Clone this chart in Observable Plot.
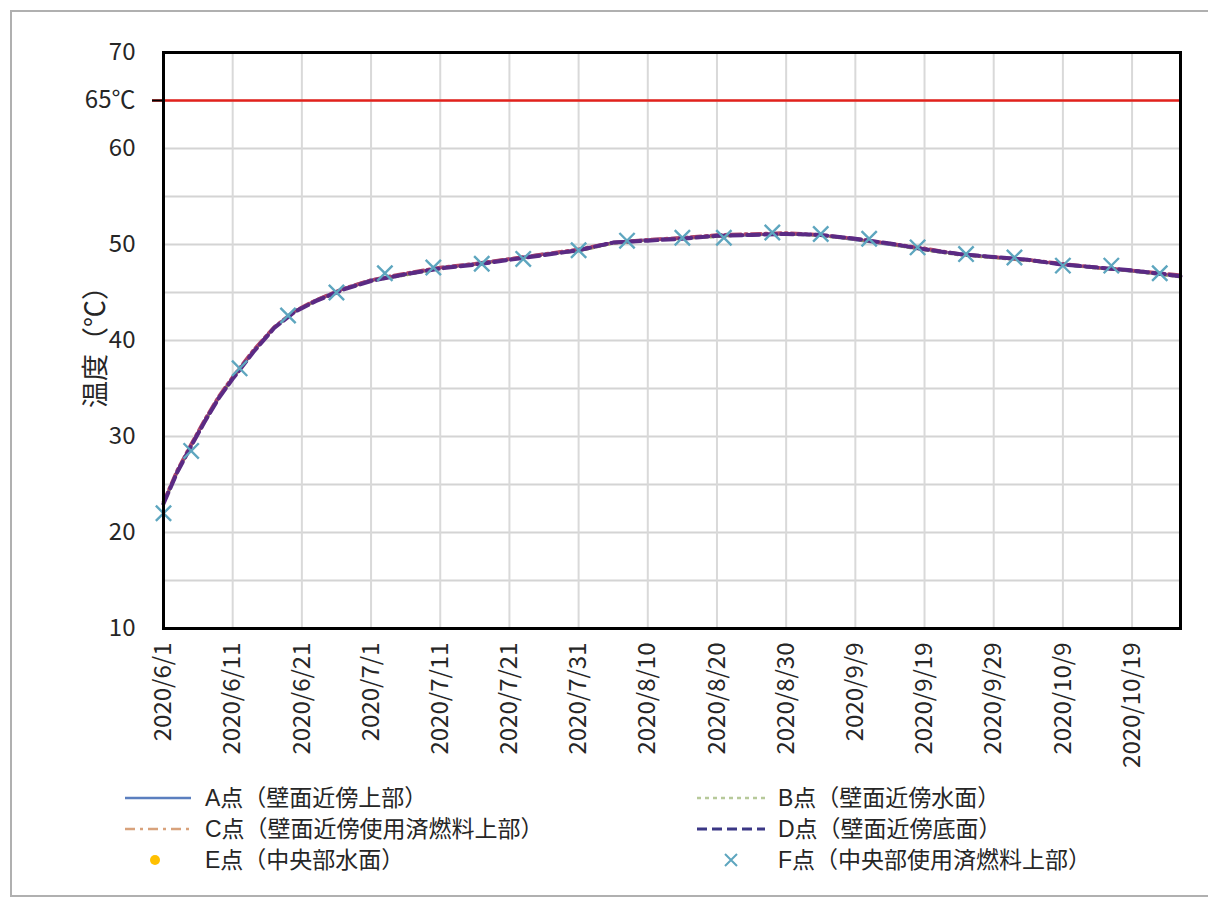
<!DOCTYPE html>
<html>
<head>
<meta charset="utf-8">
<script src="https://cdn.jsdelivr.net/npm/d3@7"></script>
<script src="https://cdn.jsdelivr.net/npm/@observablehq/plot@0.6"></script>
<style>
  html, body { margin: 0; padding: 0; background: #fff; }
  body { width: 1208px; height: 901px; position: relative; overflow: hidden; font-family: "Noto Sans CJK JP", "Noto Sans", sans-serif; }
  #border { position: absolute; left: 10px; top: 10px; width: 1198px; height: 887px; border: 2px solid #b0b0b0; border-right: none; box-sizing: border-box; }
  #chart { position: absolute; left: 0; top: 0; }
  .leg { position: absolute; display: flex; align-items: center; font-family: "Liberation Sans", "Noto Sans CJK JP", sans-serif; font-size: 23px; line-height: 24px; height: 26px; color: #262626; white-space: nowrap; }
  .leg svg { display: block; }
</style>
</head>
<body>
<div id="border"></div>
<div id="chart"></div>
<div id="legend"></div>
<script>
// ---- data ----
const lineDates = ["2020-06-01","2020-06-03","2020-06-05","2020-06-07","2020-06-09","2020-06-11","2020-06-14","2020-06-17","2020-06-20","2020-06-23","2020-06-27","2020-07-01","2020-07-06","2020-07-11","2020-07-16","2020-07-21","2020-07-26","2020-07-31","2020-08-05","2020-08-10","2020-08-15","2020-08-20","2020-08-25","2020-08-30","2020-09-04","2020-09-09","2020-09-14","2020-09-19","2020-09-24","2020-09-29","2020-10-04","2020-10-09","2020-10-14","2020-10-19","2020-10-26"];
const seriesA = [23.1,26.4,29.1,31.7,34.1,36.1,38.9,41.4,43.0,44.2,45.4,46.3,46.9,47.6,48.0,48.5,49.0,49.4,50.2,50.5,50.7,50.9,51.0,51.1,51.0,50.5,50.0,49.5,49.0,48.7,48.4,47.9,47.6,47.2,46.7];
const seriesB = [23.0,26.2,29.0,31.5,34.0,36.0,38.8,41.3,43.0,44.1,45.3,46.2,46.8,47.5,47.9,48.4,48.9,49.3,50.1,50.4,50.6,50.8,51.0,51.1,50.9,50.5,50.0,49.4,48.9,48.6,48.3,47.9,47.5,47.2,46.6];
const seriesC = [23.2,26.5,29.2,31.8,34.2,36.2,39.0,41.4,43.1,44.2,45.4,46.3,47.0,47.6,48.0,48.5,49.0,49.5,50.2,50.5,50.7,51.0,51.1,51.2,51.0,50.6,50.1,49.6,49.0,48.7,48.4,48.0,47.6,47.3,46.8];
const seriesD = [23.0,26.3,29.0,31.6,34.0,36.0,38.8,41.3,43.0,44.1,45.3,46.2,46.9,47.5,47.9,48.4,48.9,49.4,50.2,50.4,50.6,50.9,51.0,51.1,51.0,50.6,50.1,49.5,49.0,48.7,48.4,47.9,47.6,47.3,46.7];
const pointFDates = ["2020-06-01","2020-06-05","2020-06-12","2020-06-19","2020-06-26","2020-07-03","2020-07-10","2020-07-17","2020-07-23","2020-07-31","2020-08-07","2020-08-15","2020-08-21","2020-08-28","2020-09-04","2020-09-11","2020-09-18","2020-09-25","2020-10-02","2020-10-09","2020-10-16","2020-10-23"];
const pointFValues = [22.0,28.5,37.1,42.6,45.0,47.0,47.6,48.0,48.5,49.4,50.4,50.7,50.7,51.25,51.1,50.6,49.7,49.0,48.65,47.8,47.8,47.0];
const xTickDates = ["2020-06-01","2020-06-11","2020-06-21","2020-07-01","2020-07-11","2020-07-21","2020-07-31","2020-08-10","2020-08-20","2020-08-30","2020-09-09","2020-09-19","2020-09-29","2020-10-09","2020-10-19"];
const yTickValues = [10, 20, 30, 40, 50, 60, 65, 70];
const yGridValues = [10, 15, 20, 25, 30, 35, 40, 45, 50, 55, 60, 65, 70];
const limitValue = [65];
const xDomain = ["2020-06-01", "2020-10-26"];
const yDomain = [10, 70];
const legendNames = ["A点（壁面近傍上部）","B点（壁面近傍水面）","C点（壁面近傍使用済燃料上部）","D点（壁面近傍底面）","E点（中央部水面）","F点（中央部使用済燃料上部）"];
const yLabel = "温度（℃）";

// ---- build ----
const parse = s => new Date(s + "T00:00:00Z");
const mk = vals => lineDates.map((d, i) => ({date: parse(d), value: vals[i]}));
const dataA = mk(seriesA), dataB = mk(seriesB), dataC = mk(seriesC), dataD = mk(seriesD);
const dataF = pointFDates.map((d, i) => ({date: parse(d), value: pointFValues[i]}));
const xTicks = xTickDates.map(parse);
const fmtDate = d => `${d.getUTCFullYear()}/${d.getUTCMonth() + 1}/${d.getUTCDate()}`;

const plot = Plot.plot({
  width: 1208,
  height: 780,
  marginTop: 52,
  marginBottom: 152,
  marginLeft: 163,
  marginRight: 28,
  style: {fontFamily: "'Noto Sans CJK JP', 'Noto Sans', sans-serif", fontSize: "24px", color: "#262626", background: "transparent"},
  x: {type: "utc", domain: xDomain.map(parse)},
  y: {domain: yDomain},
  marks: [
    Plot.gridY(yGridValues, {stroke: "#d4d4d4", strokeOpacity: 1, strokeWidth: 2}),
    Plot.gridX(xTicks, {stroke: "#d9d9d9", strokeOpacity: 1, strokeWidth: 2}),
    Plot.ruleY(limitValue, {stroke: "#e3221c", strokeWidth: 2.5, insetLeft: -11}),
    Plot.line(dataA, {x: "date", y: "value", stroke: "#5a5fae", strokeWidth: 3}),
    Plot.line(dataB, {x: "date", y: "value", stroke: "#8c9a62", strokeWidth: 2.5, strokeDasharray: "3,3"}),
    Plot.line(dataC, {x: "date", y: "value", stroke: "#b1466a", strokeWidth: 3.5, strokeDasharray: "10,4,2,4"}),
    Plot.line(dataD, {x: "date", y: "value", stroke: "#5a2a84", strokeWidth: 4, strokeDasharray: "12,5"}),
    Plot.dot(dataF, {x: "date", y: "value", symbol: "times", r: 7, stroke: "#5ea6bf", strokeWidth: 2.4}),
    Plot.frame({stroke: "#000", strokeWidth: 3}),
    Plot.axisY(yTickValues, {tickSize: 0, tickPadding: 28, tickFormat: d => d === 65 ? "65℃" : String(d), label: yLabel, labelAnchor: "center", labelArrow: "none", labelOffset: 78}),
    Plot.axisY(limitValue, {tickSize: 11, tickFormat: () => "", label: null, stroke: "#000", strokeWidth: 2}),
    Plot.axisX(xTicks, {tickSize: 0, tickPadding: 14, tickRotate: -90, tickFormat: fmtDate, label: null})
  ]
});
document.getElementById("chart").appendChild(plot);
const yl = plot.querySelector('[aria-label="y-axis label"] text') || plot.querySelector('[aria-label="y-axis label"]');
if (yl) yl.style.fontSize = "27px";

// ---- legend ----
const legend = document.getElementById("legend");
const swatches = [
  {kind: "line", stroke: "#5b7fbf", dash: null, w: 2.5},
  {kind: "line", stroke: "#b7c99a", dash: "4,4", w: 2.5},
  {kind: "line", stroke: "#d8a27c", dash: "10,5,3,5", w: 2.5},
  {kind: "line", stroke: "#3b3785", dash: "10,5", w: 3},
  {kind: "dot", fill: "#ffc000"},
  {kind: "x", stroke: "#5ea6bf"}
];
const cols = [{swX: 125, swW: 66, textX: 205}, {swX: 697, swW: 68, textX: 778}];
const rowsY = [798, 829, 860];
legendNames.forEach((name, i) => {
  const col = cols[i % 2], rowY = rowsY[Math.floor(i / 2)];
  const sw = swatches[i];
  const el = document.createElement("div");
  el.className = "leg";
  el.style.left = col.swX + "px";
  el.style.top = (rowY - 13) + "px";
  const svgW = col.textX - col.swX;
  let inner = "";
  if (sw.kind === "line") {
    inner = `<line x1="0" x2="${col.swW}" y1="13" y2="13" stroke="${sw.stroke}" stroke-width="${sw.w}" ${sw.dash ? `stroke-dasharray="${sw.dash}"` : ""}/>`;
  } else if (sw.kind === "dot") {
    inner = `<circle cx="${col.swW / 2 - 3}" cy="13" r="5" fill="${sw.fill}"/>`;
  } else {
    inner = `<path d="M${col.swW/2-6},7 L${col.swW/2+6},19 M${col.swW/2+6},7 L${col.swW/2-6},19" stroke="${sw.stroke}" stroke-width="2"/>`;
  }
  el.innerHTML = `<svg width="${svgW}" height="26">${inner}</svg><span>${name}</span>`;
  legend.appendChild(el);
});
</script>
</body>
</html>
